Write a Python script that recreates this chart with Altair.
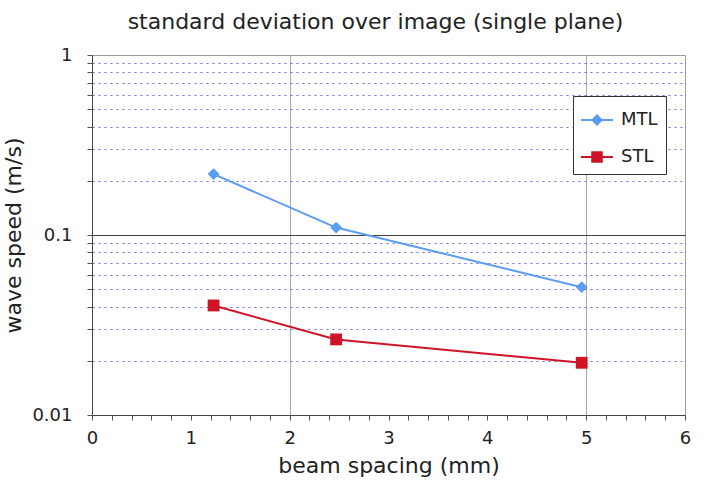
import altair as alt
import pandas as pd

# ---- data ----
beam_spacing = [1.23, 2.47, 4.955]
mtl_speed = [0.218, 0.110, 0.0513]
stl_speed = [0.0406, 0.0263, 0.0195]
series_names = ["MTL", "STL"]
series_colors = ["#5b9cf4", "#d01427"]
marker_shapes = ["diamond", "square"]
x_tick_values = [0, 0.2, 0.4, 0.6, 0.8, 1, 1.2, 1.4, 1.6, 1.8, 2, 2.2, 2.4, 2.6, 2.8, 3,
                 3.2, 3.4, 3.6, 3.8, 4, 4.2, 4.4, 4.6, 4.8, 5, 5.2, 5.4, 5.6, 5.8, 6]
y_tick_values = [0.01, 0.02, 0.03, 0.04, 0.05, 0.06, 0.07, 0.08, 0.09,
                 0.1, 0.2, 0.3, 0.4, 0.5, 0.6, 0.7, 0.8, 0.9, 1]
# legend symbols: a line segment with the series marker on it
legend_paths = [
    "M-1,-0.06H1V0.06H-1Z M-0.37,0L0,-0.37L0.37,0L0,0.37Z",
    "M-1,-0.06H1V0.06H-1Z M-0.36,-0.36H0.36V0.36H-0.36Z",
]

df = pd.DataFrame({
    "spacing": beam_spacing + beam_spacing,
    "speed": mtl_speed + stl_speed,
    "series": ["MTL"] * len(beam_spacing) + ["STL"] * len(beam_spacing),
})

FONT = "DejaVu Sans"
TXT = "#222222"

x_enc = alt.X(
    "spacing:Q",
    scale=alt.Scale(domain=[0, 6], nice=False, zero=False),
    axis=alt.Axis(
        title="beam spacing (mm)",
        values=x_tick_values,
        labelExpr="datum.value % 1 === 0 ? format(datum.value, 'd') : ''",
        labelOverlap=False,
        labelFlush=False,
        tickSize=5,
        labelPadding=9,
        titlePadding=8,
        grid=True,
        gridColor="#aaaaaa",
        gridWidth=1,
        gridOpacity={"condition": {"test": "datum.value === 2 || datum.value === 5", "value": 1}, "value": 0},
    ),
)
y_enc = alt.Y(
    "speed:Q",
    scale=alt.Scale(type="log", domain=[0.01, 1], nice=False),
    axis=alt.Axis(
        title="wave speed (m/s)",
        values=y_tick_values,
        labelExpr="(datum.value === 1 || datum.value === 0.1 || datum.value === 0.01) ? format(datum.value, '~g') : ''",
        labelOverlap=False,
        labelFlush=False,
        tickSize=5,
        labelPadding=15,
        titlePadding=6,
        grid=True,
        gridColor={"condition": {"test": "datum.value === 0.1", "value": "#111111"}, "value": "#4a4ae0"},
        gridDash={"condition": {"test": "datum.value === 0.1", "value": []}, "value": [2, 4]},
        gridOpacity={"condition": {"test": "datum.value === 1 || datum.value === 0.01", "value": 0}, "value": 0.8},
        gridWidth=1,
    ),
)

base = alt.Chart(df)
layers = []
for name, color, shape in zip(series_names, series_colors, marker_shapes):
    sub = base.transform_filter(alt.datum.series == name)
    layers.append(sub.mark_line(color=color, strokeWidth=2).encode(x=x_enc, y=y_enc))
    layers.append(
        sub.mark_point(shape=shape, filled=True, color=color, size=140, opacity=1).encode(x=x_enc, y=y_enc)
    )

legend_props = dict(
    title=None,
    orient="none",
    legendX=481,
    legendY=41,
    fillColor="white",
    strokeColor="#333333",
    padding=8,
    labelFont=FONT,
    labelFontSize=18,
    labelColor=TXT,
    symbolSize=1024,
    symbolStrokeWidth=0,
    rowPadding=12,
    labelOffset=8,
)
legend_layer = base.transform_filter("false").mark_point(filled=True, opacity=1, size=1024).encode(
    x=x_enc,
    y=y_enc,
    color=alt.Color("series:N", scale=alt.Scale(domain=series_names, range=series_colors),
                    legend=alt.Legend(**legend_props)),
    shape=alt.Shape("series:N", scale=alt.Scale(domain=series_names, range=legend_paths),
                    legend=alt.Legend(**legend_props)),
)
layers.append(legend_layer)

chart = alt.layer(*layers).properties(
    width=593,
    height=360,
    autosize=alt.AutoSizeParams(type="none"),
    padding={"left": 92, "top": 55, "right": 19, "bottom": 74},
    title=alt.TitleParams(
        "standard deviation over image (single plane)",
        font=FONT, fontSize=22, fontWeight="normal", color=TXT,
        anchor="middle", dx=-13, offset=12,
    ),
).configure_view(
    stroke="#999999", strokeWidth=1
).configure_axis(
    labelFont=FONT, labelFontSize=18, labelColor=TXT,
    titleFont=FONT, titleFontSize=22, titleFontWeight="normal", titleColor=TXT,
    domainColor="#444444", tickColor="#555555",
)

chart.save("out.html", embed_options={"renderer": "svg", "actions": False})
